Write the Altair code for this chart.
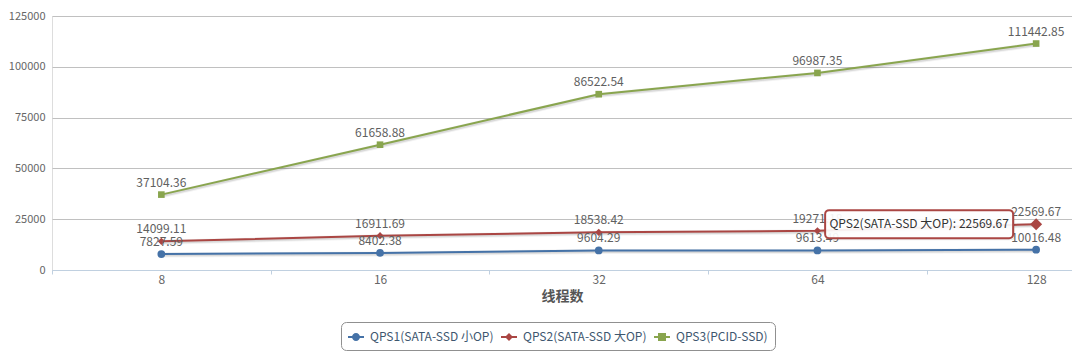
import json
import altair as alt
import pandas as pd

threads = ["8", "16", "32", "64", "128"]
series = ["QPS1(SATA-SSD 小OP)", "QPS2(SATA-SSD 大OP)", "QPS3(PCID-SSD)"]
qps1 = [7827.59, 8402.38, 9604.29, 9613.49, 10016.48]
qps2 = [14099.11, 16911.69, 18538.42, 19271.18, 22569.67]
qps3 = [37104.36, 61658.88, 86522.54, 96987.35, 111442.85]
colors = ["#4572A7", "#AA4643", "#89A54E"]
y_ticks = [0, 25000, 50000, 75000, 100000, 125000]
x_title = "线程数"
hover_series = series[1]
hover_index = 4

FONT = "Noto Sans CJK SC"

rows = []
for name, vals in zip(series, [qps1, qps2, qps3]):
    for i, (t, v) in enumerate(zip(threads, vals)):
        rows.append({"series": name, "idx": i, "thread": t, "value": v})
df = pd.DataFrame(rows)

x_scale = alt.Scale(domain=[-0.5, 4.164], nice=False, zero=False)
y_scale = alt.Scale(domain=[0, 125000], nice=False, zero=True)
color_scale = alt.Scale(domain=series, range=colors)

label_expr = "datum.value % 1 === 0 ? " + json.dumps(threads) + "[datum.value] : ''"
x_axis = alt.Axis(
    title=x_title,
    values=[-0.5, 0, 0.5, 1, 1.5, 2, 2.5, 3, 3.5, 4],
    labelExpr=label_expr,
    grid=False,
    domainColor="#C0D0E0",
    tickColor="#C0D0E0",
    tickOpacity={"condition": {"test": "datum.value % 1 === 0", "value": 0}, "value": 1},
    tickSize=4,
    labelPadding=0,
    labelFlush=False,
    labelOverlap=False,
    labelColor="#666666",
    labelFontSize=12,
    labelFont=FONT,
    titleFont=FONT,
    titleFontSize=14,
    titleFontWeight="bold",
    titleColor="#555555",
    titlePadding=4,
)
y_axis = alt.Axis(
    title=None,
    values=y_ticks,
    format="d",
    domain=False,
    ticks=False,
    gridColor="#C0C0C0",
    labelColor="#666666",
    labelFontSize=11,
    labelFont=FONT,
    labelPadding=7,
)

base = alt.Chart(df)
X = alt.X("idx:Q", scale=x_scale, axis=x_axis)
Y = alt.Y("value:Q", scale=y_scale, axis=y_axis)
C = alt.Color("series:N", scale=color_scale, legend=None)

shadow1 = base.mark_line(color="black", opacity=0.05, strokeWidth=5, xOffset=1, yOffset=1).encode(
    x=X, y=Y, detail="series:N")
shadow2 = base.mark_line(color="black", opacity=0.1, strokeWidth=3, xOffset=1, yOffset=1).encode(
    x=X, y=Y, detail="series:N")
lines = base.mark_line(strokeWidth=2).encode(
    x=X, y=Y, color=C,
    strokeWidth=alt.condition(alt.datum.series == hover_series, alt.value(3), alt.value(2.2)),
)
points = base.mark_point(filled=True, opacity=1).encode(
    x=X, y=Y, color=C,
    shape=alt.Shape("series:N", scale=alt.Scale(domain=series, range=["circle", "diamond", "square"]), legend=None),
    size=alt.Size("series:N", scale=alt.Scale(domain=series, range=[60, 44, 64]), legend=None),
)
labels = base.mark_text(dy=-12, fontSize=12, font=FONT, color="#606060", align="center", baseline="middle").encode(
    x=X, y=Y, text=alt.Text("value:Q", format=".2f"))

hover = base.transform_filter(
    (alt.datum.series == hover_series) & (alt.datum.idx == hover_index)
).transform_calculate(tip="datum.series + ': ' + format(datum.value, '.2f')")

W, H, R = 188, 28, 4
s = W / 2.0
hy = H / 2.0 / s
rr = R / s
kx = 1 - rr
ky = hy - rr
box_path = (
    f"M{-kx:.4f},{-hy:.4f}H{kx:.4f}A{rr:.4f},{rr:.4f} 0 0 1 1,{-ky:.4f}"
    f"V{ky:.4f}A{rr:.4f},{rr:.4f} 0 0 1 {kx:.4f},{hy:.4f}"
    f"H{-kx:.4f}A{rr:.4f},{rr:.4f} 0 0 1 -1,{ky:.4f}"
    f"V{-ky:.4f}A{rr:.4f},{rr:.4f} 0 0 1 {-kx:.4f},{-hy:.4f}Z"
)
big_marker = hover.mark_point(shape="diamond", filled=True, size=144, color=colors[1], opacity=1).encode(x=X, y=Y)
tip_shadow = hover.mark_point(shape=box_path, size=W * W, filled=True, color="black", opacity=0.08,
                              xOffset=-115, yOffset=2).encode(x=X, y=Y)
tip_box = hover.mark_point(shape=box_path, size=W * W, fill="white", fillOpacity=0.92, stroke=colors[1],
                           strokeWidth=2, opacity=1, xOffset=-117).encode(x=X, y=Y)
tip_text = hover.mark_text(xOffset=-117, fontSize=12, font=FONT, color="#333333", align="center",
                           baseline="middle").encode(x=X, y=Y, text="tip:N")

u = 8.0
lh = 1.0 / u
legend_paths = [
    f"M-1,-{lh}H1V{lh}H-1Z M-0.5,0A0.5,0.5 0 1,1 0.5,0A0.5,0.5 0 1,1 -0.5,0Z",
    f"M-1,-{lh}H1V{lh}H-1Z M0,-0.5L0.5,0L0,0.5L-0.5,0Z",
    f"M-1,-{lh}H1V{lh}H-1Z M-0.5,-0.5H0.5V0.5H-0.5Z",
]
legend = alt.Legend(
    title=None, orient="none", direction="horizontal", legendX=289, legendY=306,
    strokeColor="#909090", cornerRadius=5, padding=7, fillColor="white",
    labelFont=FONT, labelFontSize=12, labelColor="#3E576F", symbolSize=256,
    symbolStrokeWidth=0, labelOffset=6, columnPadding=7, symbolOpacity=1,
)
legend_layer = base.transform_filter("false").mark_point(filled=True).encode(
    x=X, y=Y,
    color=alt.Color("series:N", scale=alt.Scale(domain=series, range=colors), legend=legend),
    shape=alt.Shape("series:N", scale=alt.Scale(domain=series, range=legend_paths), legend=legend),
)

chart = alt.layer(
    shadow1, shadow2, lines, points, labels, tip_shadow, tip_box, tip_text, big_marker, legend_layer
).resolve_scale(color="independent", shape="independent", size="independent").properties(
    width=1020, height=254, padding={"left": 0, "top": 2, "right": 0, "bottom": 0}
).configure_view(stroke=None).configure(background="white")

chart.save("out.html", embed_options={"renderer": "svg", "actions": False})
